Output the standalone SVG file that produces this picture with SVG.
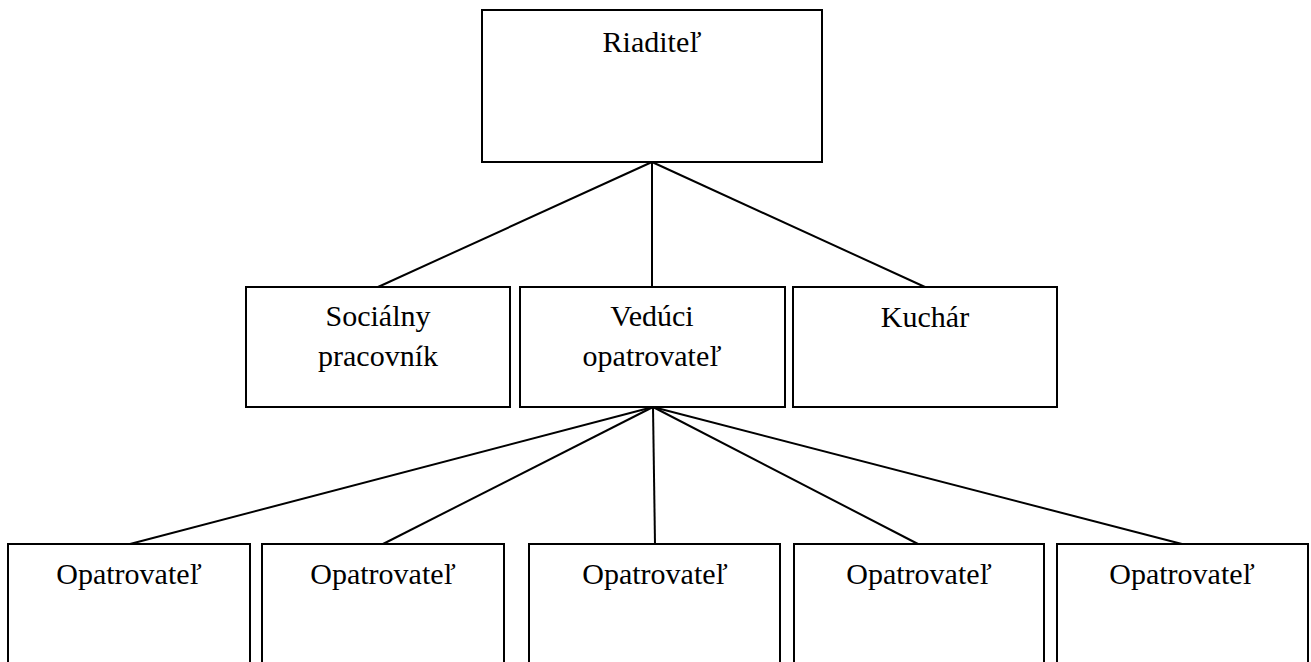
<svg xmlns="http://www.w3.org/2000/svg" width="1311" height="662" viewBox="0 0 1311 662">
<style>
.box{fill:#fff;stroke:#000;stroke-width:2}
.lbl{font-family:"Liberation Serif","Times New Roman",serif;font-size:30px;fill:#000;text-anchor:middle}
.con line{stroke:#000;stroke-width:2}
</style>
<rect width="1311" height="662" fill="#fff"/>
<g class="con" id="connectors">
<line x1="652" y1="162" x2="378" y2="287"/>
<line x1="652" y1="162" x2="652" y2="287"/>
<line x1="652" y1="162" x2="925" y2="287"/>
<line x1="653" y1="407" x2="130" y2="544"/>
<line x1="653" y1="407" x2="383" y2="544"/>
<line x1="653" y1="407" x2="655" y2="544"/>
<line x1="653" y1="407" x2="918" y2="544"/>
<line x1="653" y1="407" x2="1182" y2="544"/>
</g>
<g id="riaditel"><rect class="box" x="482" y="10" width="340" height="152"/><text class="lbl" x="652" y="52">Riaditeľ</text></g>
<g id="socialny"><rect class="box" x="246" y="287" width="264" height="120"/><text class="lbl" x="378" y="326">Sociálny</text><text class="lbl" x="378" y="366">pracovník</text></g>
<g id="veduci"><rect class="box" x="520" y="287" width="265" height="120"/><text class="lbl" x="652" y="326">Vedúci</text><text class="lbl" x="652" y="366">opatrovateľ</text></g>
<g id="kuchar"><rect class="box" x="793" y="287" width="264" height="120"/><text class="lbl" x="925" y="327">Kuchár</text></g>
<g id="op1"><rect class="box" x="8" y="544" width="242" height="130"/><text class="lbl" x="129" y="584">Opatrovateľ</text></g>
<g id="op2"><rect class="box" x="262" y="544" width="242" height="130"/><text class="lbl" x="383" y="584">Opatrovateľ</text></g>
<g id="op3"><rect class="box" x="529" y="544" width="251" height="130"/><text class="lbl" x="655" y="584">Opatrovateľ</text></g>
<g id="op4"><rect class="box" x="794" y="544" width="250" height="130"/><text class="lbl" x="919" y="584">Opatrovateľ</text></g>
<g id="op5"><rect class="box" x="1057" y="544" width="251" height="130"/><text class="lbl" x="1182" y="584">Opatrovateľ</text></g>
</svg>
